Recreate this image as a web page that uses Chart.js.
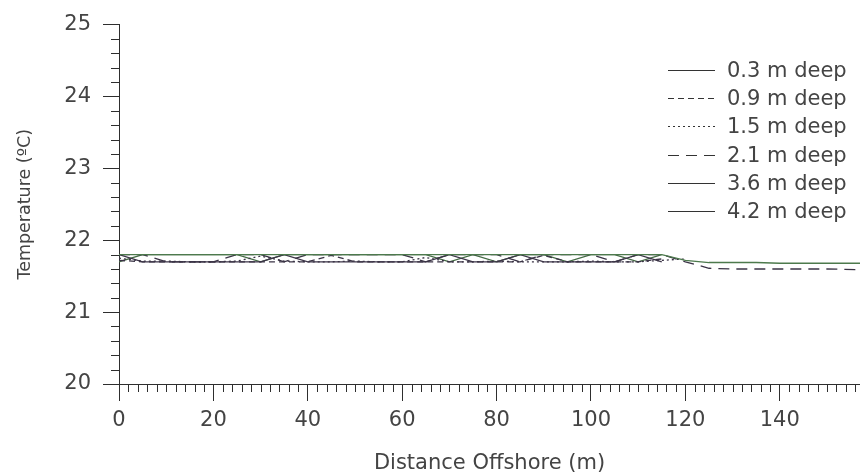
<!DOCTYPE html>
<html>
<head>
<meta charset="utf-8">
<script src="https://cdn.jsdelivr.net/npm/chart.js@4/dist/chart.umd.min.js"></script>
<style>
  html, body { margin: 0; padding: 0; background: #fff; }
  #wrap { width: 860px; height: 476px; }
</style>
</head>
<body>
<div id="wrap"><canvas id="mychart" width="860" height="476"></canvas></div>
<script>
// distance offshore (m)
const distances = [0, 5, 10, 15, 20, 25, 30, 35, 40, 45, 50, 55, 60, 65, 70, 75,
                   80, 85, 90, 95, 100, 105, 110, 115, 120, 125, 130, 135, 140, 145, 150, 157];

// temperature (ºC) per depth
const deep03 = [21.80, 21.80, 21.80, 21.80, 21.80, 21.80, 21.80, 21.80, 21.80, 21.80, 21.80, 21.80, 21.80, 21.80, 21.80, 21.80,
                21.80, 21.80, 21.80, 21.80, 21.80, 21.80, 21.80, 21.80, 21.72, 21.69, 21.69, 21.69, 21.68, 21.68, 21.68, 21.68];
const deep09 = [21.72, 21.70, 21.70, 21.70, 21.70, 21.70, 21.70, 21.70, 21.70, 21.79, 21.70, 21.70, 21.70, 21.70, 21.70, 21.70,
                21.70, 21.70, 21.79, 21.70, 21.70, 21.70, 21.70, 21.74, null, null, null, null, null, null, null, null];
const deep15 = [21.75, 21.71, 21.71, 21.70, 21.70, 21.71, 21.78, 21.71, 21.70, 21.70, 21.71, 21.70, 21.70, 21.76, 21.70, 21.70,
                21.71, 21.70, 21.70, 21.70, 21.71, 21.70, 21.70, 21.72, 21.74, null, null, null, null, null, null, null];
const deep21 = [21.80, 21.80, 21.70, 21.70, 21.70, 21.80, 21.80, 21.70, 21.80, 21.80, 21.80, 21.80, 21.80, 21.70, 21.80, 21.80,
                21.80, 21.70, 21.80, 21.80, 21.80, 21.70, 21.80, 21.80, 21.70, 21.61, 21.60, 21.60, 21.60, 21.60, 21.60, 21.59];
const deep36 = [21.80, 21.70, 21.70, 21.70, 21.70, 21.70, 21.70, 21.80, 21.70, 21.70, 21.70, 21.70, 21.70, 21.70, 21.80, 21.70,
                21.70, 21.80, 21.70, 21.70, 21.70, 21.70, 21.80, 21.70, null, null, null, null, null, null, null, null];
const deep42 = [21.70, 21.80, 21.80, 21.80, 21.80, 21.80, 21.70, 21.80, 21.80, 21.80, 21.80, 21.80, 21.80, 21.80, 21.70, 21.80,
                21.70, 21.80, 21.80, 21.70, 21.80, 21.80, 21.70, 21.80, null, null, null, null, null, null, null, null];

const depthLabels = ['0.3 m deep', '0.9 m deep', '1.5 m deep', '2.1 m deep', '3.6 m deep', '4.2 m deep'];
const yTicks = [20, 21, 22, 23, 24, 25];

const axisColor = '#2e2e2e';
const textColor = '#444444';
const fontName = '"DejaVu Sans", Verdana, sans-serif';

Chart.defaults.font.family = fontName;

function toPoints(values) {
    return distances.map((d, i) => ({ x: d, y: values[i] }));
}

const series = [
    { data: deep03, color: '#4d7a4d', dash: [] },
    { data: deep09, color: '#3a3345', dash: [6, 4] },
    { data: deep15, color: '#3a3345', dash: [2, 3] },
    { data: deep21, color: '#3a3345', dash: [11, 7] },
    { data: deep36, color: '#3d3548', dash: [] },
    { data: deep42, color: '#456b45', dash: [] },
];

// minor ticks (Chart.js has none of its own)
const minorTicks = {
    id: 'minorTicks',
    afterDraw(chart) {
        const { ctx, chartArea, scales: { x, y } } = chart;
        ctx.save();
        ctx.strokeStyle = axisColor;
        ctx.lineWidth = 1;
        ctx.beginPath();
        for (let v = 2; v <= x.max; v += 2) {
            if (v % 20 === 0) continue;
            const px = Math.round(x.getPixelForValue(v)) + 0.5;
            ctx.moveTo(px, chartArea.bottom);
            ctx.lineTo(px, chartArea.bottom + 8);
        }
        for (let i = 1; i < 25; i++) {
            if (i % 5 === 0) continue;
            const py = Math.round(y.getPixelForValue(20 + i * 0.2)) + 0.5;
            ctx.moveTo(chartArea.left, py);
            ctx.lineTo(chartArea.left - 8, py);
        }
        ctx.stroke();
        ctx.restore();
    }
};

// legend drawn inside the plot, top right
const insideLegend = {
    id: 'insideLegend',
    afterDraw(chart) {
        const ctx = chart.ctx;
        ctx.save();
        ctx.font = '21px ' + fontName;
        ctx.textBaseline = 'middle';
        ctx.fillStyle = textColor;
        chart.data.datasets.forEach((ds, i) => {
            const yy = Math.round(70 + i * 28.2) + 0.5;
            ctx.strokeStyle = '#333';
            ctx.lineWidth = 1.2;
            ctx.setLineDash(ds.borderDash || []);
            ctx.beginPath();
            ctx.moveTo(668, yy);
            ctx.lineTo(715, yy);
            ctx.stroke();
            ctx.setLineDash([]);
            ctx.fillText(ds.label, 727, yy + 1);
        });
        ctx.restore();
    }
};

const ctx = document.getElementById('mychart');
const myChart = new Chart(ctx, {
    type: 'line',
    data: {
        datasets: series.map((s, i) => ({
            label: depthLabels[i],
            data: toPoints(s.data),
            borderColor: s.color,
            borderWidth: 1.3,
            borderDash: s.dash,
            pointRadius: 0,
            tension: 0,
            spanGaps: false,
            fill: false,
        })),
    },
    plugins: [minorTicks, insideLegend],
    options: {
        responsive: false,
        animation: false,
        events: [],
        layout: {
            padding: { top: 24, right: 0, left: 0, bottom: 0 }
        },
        scales: {
            x: {
                type: 'linear',
                min: 0,
                max: 157,
                afterFit: (scale) => { scale.height = 92; },
                border: { display: true, color: axisColor, width: 1 },
                grid: { drawOnChartArea: false, drawTicks: true, tickLength: 17, color: axisColor },
                ticks: {
                    stepSize: 20,
                    includeBounds: false,
                    maxRotation: 0,
                    padding: 7,
                    color: textColor,
                    font: { size: 21 },
                },
                title: {
                    display: true,
                    text: 'Distance Offshore (m)',
                    color: textColor,
                    font: { size: 21 },
                    padding: { top: 0, bottom: 0 },
                },
            },
            y: {
                type: 'linear',
                min: 20,
                max: 25,
                afterFit: (scale) => { scale.width = 119; },
                afterBuildTicks: (scale) => { scale.ticks = yTicks.map(v => ({ value: v })); },
                border: { display: true, color: axisColor, width: 1 },
                grid: { drawOnChartArea: false, drawTicks: true, tickLength: 16, color: axisColor },
                ticks: {
                    padding: 12,
                    color: textColor,
                    font: { size: 21 },
                },
                title: {
                    display: true,
                    text: 'Temperature (ºC)',
                    color: textColor,
                    font: { size: 17.5 },
                    padding: { top: 15, bottom: 0 },
                },
            },
        },
        plugins: {
            legend: { display: false },
            tooltip: { enabled: false },
        },
    },
});
</script>
</body>
</html>
